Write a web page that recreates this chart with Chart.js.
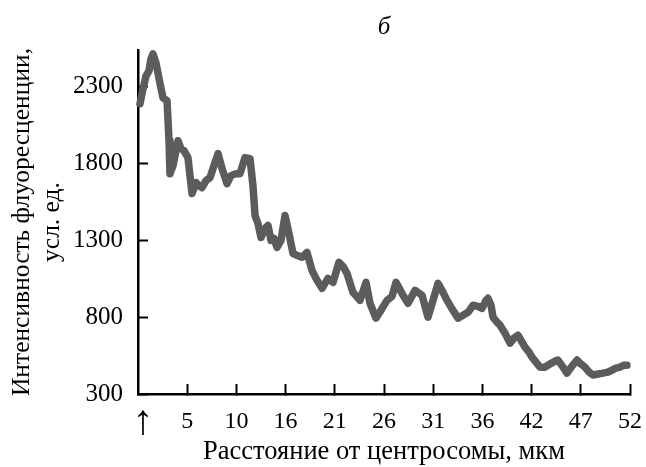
<!DOCTYPE html>
<html>
<head>
<meta charset="utf-8">
<script src="https://cdn.jsdelivr.net/npm/chart.js@4"></script>
<style>
html,body{margin:0;padding:0;background:#fff;}
#wrap{width:646px;height:467px;position:relative;}
</style>
</head>
<body>
<div id="wrap"><canvas id="c" width="646" height="467"></canvas></div>
<script>
// Distance from centrosome, µm
const distance = [0.21,0.53,0.85,1.16,1.37,1.59,1.90,2.33,2.64,3.07,3.28,3.38,3.70,4.23,4.54,4.86,5.28,5.71,6.13,6.45,6.76,7.19,7.61,8.03,8.46,8.88,9.41,9.83,10.36,10.78,11.31,11.84,12.15,12.37,12.68,13.00,13.42,13.74,14.06,14.37,14.69,15.11,15.54,15.96,16.38,16.80,17.33,17.86,18.39,18.92,19.45,20.08,20.61,21.24,21.67,22.09,22.72,23.46,24.10,24.52,25.15,25.68,26.32,26.85,27.27,28.01,28.54,29.28,30.02,30.65,31.18,31.71,32.24,32.66,33.29,33.82,34.35,34.88,35.41,35.93,36.36,36.78,36.99,37.31,37.52,37.94,38.26,38.79,39.32,39.74,40.16,40.59,40.90,41.33,41.64,42.06,42.49,43.01,43.54,44.07,44.39,44.92,45.34,45.87,46.40,46.82,47.24,47.67,48.09,48.62,49.15,49.67,50.10,50.52,50.94,51.37,51.68];
// Fluorescence intensity, arb. units
const intensity = [2190,2287,2372,2404,2482,2514,2456,2320,2229,2209,1949,1735,1787,1949,1898,1885,1839,1605,1677,1657,1644,1690,1709,1787,1865,1768,1670,1722,1735,1735,1839,1833,1657,1462,1410,1320,1378,1397,1300,1313,1255,1300,1462,1345,1215,1203,1190,1222,1105,1040,988,1053,1027,1157,1131,1086,962,910,1027,891,794,845,910,936,1027,943,891,975,943,800,910,1021,962,910,845,794,813,832,878,871,858,910,923,878,800,768,748,696,631,664,683,638,605,573,540,508,475,475,495,514,521,475,436,482,521,495,475,443,423,430,436,443,456,469,475,488,488];
// Axis ticks
const xTickValues = [0.5,5.2,10.4,15.6,20.8,26,31.2,36.4,41.6,46.8,52];
const xTickLabels = ['↑','5','10','16','21','26','31','36','42','47','52'];
const yTickValues = [300,800,1300,1800,2300];
const titleText = 'б';
const xTitle = 'Расстояние от центросомы, мкм';
const yTitle = ['Интенсивность флуоресценции,', 'усл. ед.'];

const points = distance.map((d,i)=>({x:d,y:intensity[i]}));
const SERIF = "'Liberation Serif', 'Times New Roman', serif";

new Chart(document.getElementById('c'), {
  type: 'line',
  data: {
    datasets: [{
      data: points,
      borderColor: '#5c5c5c',
      borderWidth: 7.5,
      pointRadius: 0,
      tension: 0,
      borderJoinStyle: 'round',
      borderCapStyle: 'round',
      clip: false
    }]
  },
  options: {
    responsive: false,
    animation: false,
    devicePixelRatio: 1,
    layout: { padding: { top: 0, right: 16, bottom: 0, left: 0 } },
    plugins: {
      legend: { display: false },
      tooltip: { enabled: false },
      title: {
        display: true,
        text: titleText,
        fullSize: false,
        color: '#000',
        font: { family: SERIF, size: 25, style: 'italic', weight: 'normal', lineHeight: 1.2 },
        padding: { top: 12, bottom: 8 }
      }
    },
    scales: {
      x: {
        type: 'linear',
        min: 0,
        max: 52,
        afterBuildTicks: s => { s.ticks = xTickValues.map(v => ({value: v})); },
        afterFit: s => { s.height = 73; s.paddingLeft = 0; s.paddingRight = 0; },
        grid: {
          drawOnChartArea: false,
          drawTicks: true,
          tickLength: -10,
          tickWidth: 2,
          tickColor: ctx => (ctx.tick && ctx.tick.value === 0.5) ? 'rgba(0,0,0,0)' : '#000'
        },
        border: { display: true, color: '#000', width: 2.5 },
        ticks: {
          autoSkip: false,
          maxRotation: 0,
          padding: 23.6,
          color: '#000',
          font: ctx => (ctx.tick && ctx.tick.value === 0.5)
            ? { family: SERIF, size: 42, lineHeight: 0.71 }
            : { family: SERIF, size: 24, lineHeight: 1.2 },
          callback: (v) => { const i = xTickValues.indexOf(v); return i >= 0 ? xTickLabels[i] : ''; }
        },
        title: {
          display: true,
          text: xTitle,
          color: '#000',
          font: { family: SERIF, size: 26.5, lineHeight: 1.1 },
          padding: { top: 0, bottom: 0 }
        }
      },
      y: {
        type: 'linear',
        min: 300,
        max: 2540,
        afterBuildTicks: s => { s.ticks = yTickValues.map(v => ({value: v})); },
        afterFit: s => { s.width = 138; s.paddingTop = 0; s.paddingBottom = 0; },
        grid: {
          drawOnChartArea: false,
          drawTicks: true,
          tickLength: -10,
          tickWidth: 2,
          tickColor: '#000'
        },
        border: { display: true, color: '#000', width: 2.5 },
        ticks: {
          padding: 25,
          color: '#000',
          font: { family: SERIF, size: 25, lineHeight: 1.2 },
          callback: v => String(v)
        },
        title: {
          display: true,
          text: yTitle,
          color: '#000',
          font: { family: SERIF, size: 25.5, lineHeight: 1.176 },
          padding: { top: 7, bottom: 0 }
        }
      }
    }
  }
});
</script>
</body>
</html>
